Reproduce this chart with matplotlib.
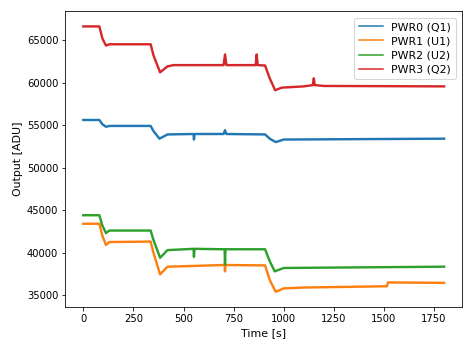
import matplotlib
matplotlib.use("Agg")
import matplotlib.pyplot as plt

# breakpoints (time in s, output in ADU)
t0 = [0, 80, 95, 113, 130, 336, 350, 380, 420, 550, 552, 555, 700, 707, 714, 907, 930, 960, 1000, 1800]
pwr0 = [55600, 55600, 55100, 54800, 54900, 54900, 54300, 53400, 53900, 53950, 53300, 53950, 53950, 54400, 53950, 53900, 53400, 53000, 53300, 53400]

t1 = [0, 80, 95, 113, 130, 336, 350, 383, 420, 705, 707, 709, 907, 930, 960, 1000, 1100, 1515, 1520, 1800]
pwr1 = [43400, 43400, 42000, 40900, 41250, 41300, 40000, 37450, 38350, 38550, 37800, 38550, 38500, 36800, 35400, 35800, 35900, 36050, 36500, 36450]

t2 = [0, 80, 95, 113, 130, 336, 350, 383, 420, 550, 552, 555, 705, 707, 709, 907, 930, 955, 1000, 1800]
pwr2 = [44400, 44400, 43200, 42300, 42600, 42600, 41500, 39400, 40300, 40450, 39500, 40450, 40400, 38600, 40400, 40400, 39000, 37800, 38200, 38350]

t3 = [0, 80, 95, 113, 130, 336, 350, 383, 420, 450, 700, 707, 714, 860, 865, 870, 907, 930, 957, 990, 1100, 1145, 1150, 1155, 1200, 1800]
pwr3 = [66600, 66600, 65200, 64350, 64500, 64500, 63200, 61200, 61900, 62050, 62050, 63300, 62050, 62050, 63300, 62050, 62000, 60500, 59100, 59400, 59550, 59700, 60500, 59700, 59600, 59550]

fig = plt.figure(figsize=(473 / 72, 347 / 72), dpi=72)
ax = fig.add_axes([0.138, 0.115, 0.839, 0.853])

ax.plot(t0, pwr0, lw=2.4, label="PWR0 (Q1)")
ax.plot(t1, pwr1, lw=2.4, label="PWR1 (U1)")
ax.plot(t2, pwr2, lw=2.4, label="PWR2 (U2)")
ax.plot(t3, pwr3, lw=2.4, label="PWR3 (Q2)")

ax.set_xlim(-90, 1890)
ax.set_ylim(33600, 68400)
ax.set_xlabel("Time [s]", fontsize=11)
ax.set_ylabel("Output [ADU]", fontsize=11)
leg = ax.legend(loc="upper right", fontsize=11, labelspacing=0.38,
                handlelength=2.2, handletextpad=0.75, borderaxespad=0.6)
for line in leg.get_lines():
    line.set_linewidth(1.5)

fig.savefig("out.png", dpi=72)
